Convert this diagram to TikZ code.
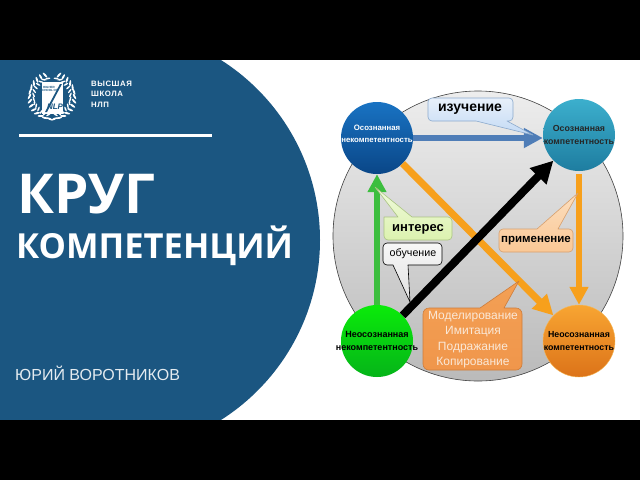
\documentclass[tikz,border=0pt]{standalone}
\usepackage{fontspec}
\setmainfont{Liberation Sans}
\newfontfamily\titlefont{Open Sans}
\usetikzlibrary{arrows.meta}
\definecolor{panel}{RGB}{27,86,129}
\definecolor{arrblue}{RGB}{79,125,183}
\definecolor{arrgreen}{RGB}{60,190,62}
\definecolor{arrorange}{RGB}{247,160,28}
\definecolor{bluetop}{RGB}{25,115,195}
\definecolor{bluebot}{RGB}{10,70,135}
\definecolor{tealtop}{RGB}{60,175,205}
\definecolor{tealbot}{RGB}{30,125,160}
\definecolor{greentop}{RGB}{10,235,10}
\definecolor{greenbot}{RGB}{5,180,25}
\definecolor{orangetop}{RGB}{248,165,50}
\definecolor{orangebot}{RGB}{220,115,25}
\definecolor{orangeedge}{RGB}{245,185,90}
\definecolor{studyedge}{RGB}{140,170,205}
\definecolor{studytop}{RGB}{232,240,250}
\definecolor{studybot}{RGB}{195,218,245}
\definecolor{intedge}{RGB}{170,195,130}
\definecolor{inttop}{RGB}{240,250,220}
\definecolor{intbot}{RGB}{220,242,175}
\definecolor{appedge}{RGB}{215,160,110}
\definecolor{apptop}{RGB}{252,222,190}
\definecolor{appbot}{RGB}{250,200,150}
\definecolor{listedge}{RGB}{205,125,60}
\definecolor{listtop}{RGB}{243,160,85}
\definecolor{listbot}{RGB}{240,150,75}
\definecolor{listtext}{RGB}{250,232,215}
\tikzset{
 x=1pt,y=-1pt,
 compnode/.style={circle,minimum size=72pt,inner sep=0pt,draw=none},
 complabel/.style={align=center,inner sep=0pt},
 conn/.style={line width=#1},
 callout/.style={draw=#1,line width=.6pt,line join=round},
 leaf/.style={fill=white,draw=none},
}
\begin{document}
\begin{tikzpicture}
\useasboundingbox (0,0) rectangle (640,480);
\fill[white] (0,0) rectangle (640,480);
% panel
\begin{scope}
\clip (0,60) rectangle (640,420);
\fill[panel] (107,240) circle[radius=213];
\end{scope}
\fill[black] (0,0) rectangle (640,60);
\fill[black] (0,420) rectangle (640,480);
% logo
\foreach \a in {-84,-72,...,72}{
 \fill[leaf] ({52+22.5*cos(\a)},{96.5-22.5*sin(\a)}) ellipse[x radius=3.2,y radius=1,rotate=-\a-60];
 \fill[leaf] ({52-22.5*cos(\a)},{96.5-22.5*sin(\a)}) ellipse[x radius=3.2,y radius=1,rotate=\a+60];
 \fill[leaf] ({52+18.5*cos(\a+5)},{96.5-18.5*sin(\a+5)}) ellipse[x radius=2.6,y radius=.8,rotate=-\a-115];
 \fill[leaf] ({52-18.5*cos(\a+5)},{96.5-18.5*sin(\a+5)}) ellipse[x radius=2.6,y radius=.8,rotate=\a+115];
}
\fill[white] (41.5,82) rectangle (62.5,114);
\fill[panel] (60,84) -- (62,84) -- (47,112) -- (45,112) -- cycle;
\node[inner sep=0pt,align=center,text=panel,font=\bfseries\fontsize{3}{3.6}\selectfont] (sealtext) at (49,89) {HIGHER\\SCHOOL OF};
\node[inner sep=0pt,text=panel,font=\bfseries\itshape\fontsize{8}{8}\selectfont] (nlp) at (55,107) {NLP};
\node[anchor=north west,inner sep=0pt,text=white,align=left,font=\bfseries\fontsize{7.8}{10.7}\selectfont] (school) at (91,80.5) {\addfontfeatures{LetterSpace=7}ВЫСШАЯ\\\addfontfeatures{LetterSpace=7}ШКОЛА\\\addfontfeatures{LetterSpace=7}НЛП};
\draw[white,line width=2.3pt] (19,135.5) -- (212,135.5);
\node[anchor=base west,inner sep=0pt,text=white,font=\titlefont\bfseries\fontsize{55}{55}\selectfont] (t1) at (17,213.5) {КРУГ};
\node[anchor=base west,inner sep=0pt,text=white,font=\titlefont\bfseries\fontsize{34.5}{34.5}\selectfont] (t2) at (16,258) {КОМПЕТЕНЦИЙ};
\node[anchor=base west,inner sep=0pt,text=white!88!panel,font=\fontsize{16}{16}\selectfont] (author) at (15,380.5) {ЮРИЙ ВОРОТНИКОВ};
% gray disc
\shade[top color=black!7,bottom color=black!27,draw=black!75,line width=.6pt] (478,236) circle[radius=145];
% nodes
\node[compnode,top color=bluetop,bottom color=bluebot] (blue) at (377,138) {};
\node[compnode,top color=tealtop,bottom color=tealbot] (teal) at (579,135) {};
\node[compnode,top color=greentop,bottom color=greenbot] (green) at (377,341) {};
\node[compnode,top color=orangetop,bottom color=orangebot,draw=orangeedge] (orange) at (579,341) {};
% connectors
\draw[conn=6.5pt,color=arrblue,-{Triangle[length=19pt,width=19pt]}] (blue.east) -- (teal.west |- blue.east);
\draw[conn=6pt,color=arrgreen,-{Triangle[length=18pt,width=18pt]}] (green.north) -- (blue.south);
\draw[conn=7pt,color=arrorange,-{Triangle[length=20pt,width=20pt]}] (blue.-45) -- (orange.135);
\draw[conn=6pt,color=arrorange,shorten <=3pt,-{Triangle[length=18pt,width=18pt]}] (teal.south) -- (orange.north);
\draw[conn=8pt,color=black,-{Triangle[length=22pt,width=22pt]}] (green.45) -- (teal.225);
% callouts
\shade[callout=studyedge,top color=studytop,bottom color=studybot]
 [sharp corners] (533,135) -- (507,121) [rounded corners=4pt] -- (513,121) -- (513,98) -- (428,98) -- (428,121) [sharp corners] -- (476,121) -- cycle;
\node[inner sep=0pt,font=\bfseries\fontsize{14}{14}\selectfont] (study) at (470,109.5) {изучение};
\shade[callout=intedge,top color=inttop,bottom color=intbot]
 [sharp corners] (375,187) -- (398,217) -- (384,217) [rounded corners=4pt] -- (384,240) -- (452,240) -- (452,217) [sharp corners] -- (412,217) -- cycle;
\node[inner sep=0pt,font=\bfseries\fontsize{13}{13}\selectfont] (interest) at (418,229) {интерес};
\shade[callout=appedge,top color=apptop,bottom color=appbot]
 [sharp corners] (578,193) -- (558,229) [rounded corners=4pt] -- (573,229) -- (573,252) -- (499,252) -- (499,229) [sharp corners] -- (537,229) -- cycle;
\node[inner sep=0pt,font=\bfseries\fontsize{11.5}{11.5}\selectfont] (apply) at (536,240.5) {применение};
\shade[callout=black,top color=white!97!black,bottom color=black!12]
 [sharp corners] (410,302) -- (393,265) [rounded corners=4pt] -- (383,265) -- (383,243) -- (442,243) -- (442,265) [sharp corners] -- (408,265) -- cycle;
\node[inner sep=0pt,font=\fontsize{10.7}{10.7}\selectfont] (learn) at (413,254) {обучение};
\shade[callout=listedge,top color=listtop,bottom color=listbot]
 [sharp corners] (519,281) -- (504,308) [rounded corners=6pt] -- (522,308) -- (522,370) -- (423,370) -- (423,308) [sharp corners] -- (480,308) -- cycle;
\node[inner sep=0pt,align=center,text=listtext,font=\fontsize{12}{15.3}\selectfont] (list) at (473,339.5) {Моделирование\\Имитация\\Подражание\\Копирование};
% node texts
\node[complabel,text=white,font=\bfseries\fontsize{7.8}{11.5}\selectfont] (bluet) at (377,134) {Осознанная\\некомпетентность};
\node[complabel,font=\bfseries\fontsize{8.8}{12.3}\selectfont,text=black!85] (tealt) at (teal) {Осознанная\\компетентность};
\node[complabel,font=\bfseries\fontsize{9}{12.3}\selectfont] (greent) at (green) {Неосознанная\\некомпетентность};
\node[complabel,font=\bfseries\fontsize{8.8}{12.3}\selectfont] (oranget) at (orange) {Неосознанная\\компетентность};
\end{tikzpicture}
\end{document}
